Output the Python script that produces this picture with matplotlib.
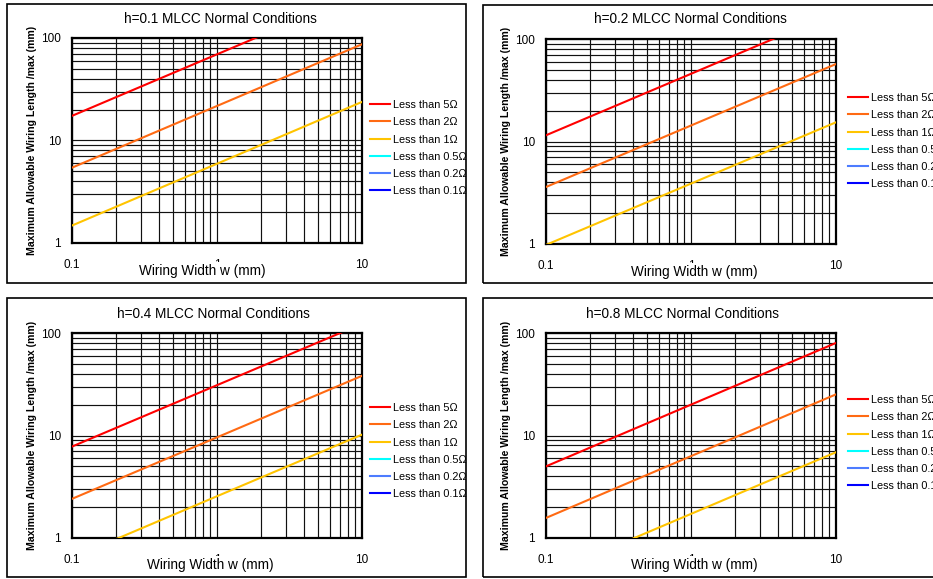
import numpy as np
import matplotlib
matplotlib.use("Agg")
import matplotlib.pyplot as plt
from matplotlib.patches import Rectangle
from matplotlib.ticker import FixedLocator, NullFormatter, FixedFormatter

# Dados (comprimento máximo em w=0.1 e w=10 mm)
h_values = [0.1, 0.2, 0.4, 0.8]
w_ends = [0.1, 10]
lmax_5ohm = [[17.4, 276], [11.5, 182], [7.8, 123], [5.0, 80]]
lmax_2ohm = [[5.43, 86.9], [3.6, 57], [2.41, 38.2], [1.57, 25.2]]
lmax_1ohm = [[1.48, 23.8], [0.98, 15.4], [0.64, 10.2], [0.43, 6.87]]
# 0.5, 0.2 e 0.1 ohm ficam abaixo da escala: só aparecem na legenda
lmax_05ohm = [[np.nan, np.nan]] * 4
lmax_02ohm = [[np.nan, np.nan]] * 4
lmax_01ohm = [[np.nan, np.nan]] * 4

series_labels = ["Less than 5Ω", "Less than 2Ω", "Less than 1Ω",
                 "Less than 0.5Ω", "Less than 0.2Ω", "Less than 0.1Ω"]
series_colors = ["#FF0000", "#FF6A13", "#FFC400", "#00FFFF", "#4D7CFF", "#0000FF"]
series_data = [lmax_5ohm, lmax_2ohm, lmax_1ohm, lmax_05ohm, lmax_02ohm, lmax_01ohm]

W, H = 933, 579
fig = plt.figure(figsize=(W / 100, H / 100), dpi=100)

sans = ["Liberation Sans", "DejaVu Sans"]

def fx(x):
    return x / W

def fy(y):
    return 1 - y / H

# caixas externas e áreas de plotagem (em pixels)
boxes = [(7, 4, 466, 283), (483, 5, 945, 283), (7, 298, 466, 577), (483, 298, 945, 577)]
axes_px = [(72, 38, 362, 243), (546, 39, 836, 244), (72, 333, 362, 538), (546, 333, 836, 538)]
title_pos = [(220, 19), (690, 19), (213, 314), (682, 314)]
xlabel_pos = [(202, 271), (694, 272), (210, 565), (694, 565)]
legend_top = [(370, 100), (848, 93), (370, 403), (848, 395)]

for i, h in enumerate(h_values):
    bx0, by0, bx1, by1 = boxes[i]
    fig.patches.append(Rectangle((fx(bx0), fy(by1)), fx(bx1 - bx0), (by1 - by0) / H,
                                 transform=fig.transFigure, fill=False,
                                 edgecolor="black", linewidth=1.2, zorder=0))
    x0, y0, x1, y1 = axes_px[i]
    ax = fig.add_axes([fx(x0), fy(y1), fx(x1 - x0), (y1 - y0) / H])
    ax.set_xscale("log")
    ax.set_yscale("log")
    ax.set_xlim(0.1, 10)
    ax.set_ylim(1, 100)

    for data, lab, col in zip(series_data, series_labels, series_colors):
        ax.plot(w_ends, data[i], color=col, linewidth=1.5, label=lab, zorder=3)

    ax.xaxis.set_major_locator(FixedLocator([0.1, 1, 10]))
    ax.xaxis.set_major_formatter(FixedFormatter(["0.1", "1", "10"]))
    ax.yaxis.set_major_locator(FixedLocator([1, 10, 100]))
    ax.yaxis.set_major_formatter(FixedFormatter(["1", "10", "100"]))
    ax.xaxis.set_minor_formatter(NullFormatter())
    ax.yaxis.set_minor_formatter(NullFormatter())
    ax.tick_params(which="both", length=0)
    ax.tick_params(axis="x", pad=11.5, labelsize=8.5)
    ax.tick_params(axis="y", pad=8, labelsize=8.5)
    for t in ax.get_xticklabels() + ax.get_yticklabels():
        t.set_fontfamily(sans)
    ax.grid(True, which="both", color="#111111", linewidth=0.85)
    for s in ax.spines.values():
        s.set_linewidth(1.6)

    ax.set_ylabel("Maximum Allowable Wiring Length /max (mm)", fontsize=7.6,
                  fontweight="bold", family=sans, labelpad=3)

    fig.text(fx(title_pos[i][0]), fy(title_pos[i][1]), f"h={h} MLCC Normal Conditions",
             ha="center", va="center", fontsize=9.8, family=sans)
    fig.text(fx(xlabel_pos[i][0]), fy(xlabel_pos[i][1]), "Wiring Width w (mm)",
             ha="center", va="center", fontsize=9.8, family=sans, zorder=5,
             bbox=dict(facecolor="white", edgecolor="none", pad=1.2))

    lx, ly = legend_top[i]
    ax.legend(loc="upper left", bbox_to_anchor=(fx(lx), fy(ly)),
              bbox_transform=fig.transFigure, frameon=False,
              borderpad=0, borderaxespad=0, handlelength=1.8,
              handletextpad=0.3, labelspacing=0.67,
              prop={"family": sans, "size": 7.8})

fig.savefig("out.png", dpi=100)
